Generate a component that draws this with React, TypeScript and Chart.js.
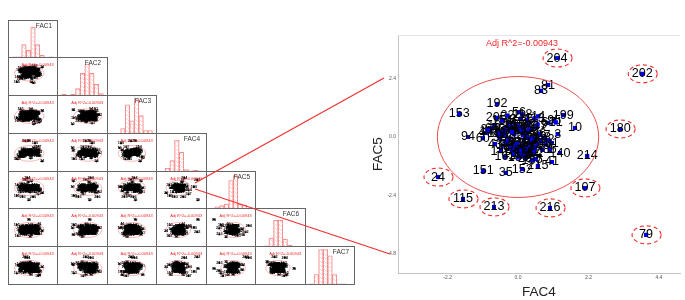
import React, { useEffect, useRef } from "react";
import { Chart, registerables } from "chart.js";
Chart.register(...registerables);

const FONT = "'Liberation Sans', Arial, sans-serif";
const NAMES = ["FAC1", "FAC2", "FAC3", "FAC4", "FAC5", "FAC6", "FAC7"];
const R2_LABEL = "Adj R^2=-0.00943";

const CASE_IDS = [204,202,180,81,83,10,199,214,153,94,24,115,213,216,107,79,151,35,152,215,41,192,
  176,26,16,211,14,21,61,12,82,143,241,52,9,95,6,124,33,171,47,118,68,137,29,205,73,159,88,3,
  146,56,182,19,127,64,98,31,163,45,110,75,193,58,131,22,87,140,37,206,66,119,5,154,92,28,187,43,
  102,71,168,17,134,49,196,60,113,85,39,148,
  7,11,13,15,18,20,23,25,27,30,32,34,36,38,40,42,44,46,48,50,51,53,54,55,57,59,62,63,65,67,69,70,72,74,76,77];

const FAC1 = [-0.4,-0.8,1.2,0.5,-0.2,0.9,-1.2,1.5,-2.4,0.3,2.7,-2.6,-1.4,0.8,1.9,-0.1,-1.8,0.2,1.1,-0.7,2.1,-1.5,
  1.42,-0.73,0.28,-1.65,0.91,-0.16,1.97,-1.08,0.54,-2.12,0.07,1.26,-0.49,-1.37,0.66,2.05,-0.88,0.33,-1.79,1.13,
  -0.25,0.79,-1.21,1.58,0.12,-0.61,-1.92,0.45,1.74,-0.37,0.96,-1.5,0.21,-0.94,1.35,-0.08,-2.0,0.6,1.05,-0.55,
  -1.28,1.84,0.38,-0.69,0.02,1.49,-1.58,0.74,-0.31,1.19,-1.85,0.5,-1.02,0.87,-0.19,2.18,-0.78,0.25,-1.44,1.02,
  -0.42,1.63,0.16,-1.14,0.69,-0.03,-1.7,0.41,
  0.88,-1.16,0.43,1.31,-0.64,-1.62,0.19,1.08,-0.29,-0.99,1.7,0.58,-1.43,0.31,-0.51,0.97,1.45,-0.83,0.06,-1.33,
  1.22,-0.14,0.72,-1.74,0.35,1.9,-0.58,-0.22,1.15,-1.07,0.52,-0.77,1.38,-0.35,0.1,-1.52];
const FAC2 = [0.6,-0.4,0.9,-2.9,0.3,-3.1,1.1,0.2,-1.2,0.7,1.8,-2.8,-1.9,2.0,-0.9,0.4,1.5,-1.1,2.3,0.8,-0.3,1.3,
  -0.45,1.12,0.36,-1.27,0.78,1.66,-0.82,0.15,-1.74,0.94,0.48,-0.21,1.38,-1.06,0.62,-0.58,1.85,0.09,-1.41,0.71,
  -0.33,1.21,-0.95,0.27,1.53,-1.58,0.4,-0.12,0.86,-0.71,1.02,-1.19,0.55,1.72,-0.38,0.18,-1.9,0.67,1.29,-0.66,
  -0.04,0.97,-1.33,0.31,1.44,-0.89,0.59,-0.26,1.08,-1.5,0.22,1.6,-0.52,0.83,-1.12,0.11,1.33,-0.77,0.44,-0.17,
  1.17,-1.02,0.74,-0.47,0.03,1.49,-1.66,0.52,
  0.57,-0.68,1.25,0.13,-1.22,0.91,0.39,-0.31,1.41,-0.84,0.7,0.24,-1.03,1.14,-0.43,0.5,-0.15,0.99,-1.28,0.32,
  1.56,-0.6,0.07,0.81,-0.92,1.31,-0.24,0.43,1.05,-0.75,0.19,-1.4,0.64,0.28,-0.51,0.88];
const FAC3 = [0.5,-0.2,-2.3,1.9,0.1,-2.6,0.9,1.4,-1.4,2.2,1.7,-0.6,-1.6,0.3,-1.2,0.7,2.1,-1.0,0.4,1.2,-2.0,-0.5,
  0.72,-0.38,1.25,-0.91,0.16,-1.42,0.57,1.08,-0.24,-1.13,0.41,0.93,-0.66,1.51,-0.09,-1.68,0.29,0.84,-0.52,1.16,
  -1.27,0.03,0.65,-0.78,1.37,-0.18,0.49,-1.02,0.98,-0.44,1.62,-0.6,0.12,-1.36,0.77,0.34,-0.85,1.21,-0.31,0.54,
  -1.53,0.9,-0.07,0.23,-0.97,1.43,-0.56,0.68,-1.19,0.08,1.03,-0.29,0.46,-0.73,1.3,-1.08,0.19,0.81,-0.41,-1.6,
  0.61,-0.14,1.12,-0.83,0.37,-0.48,1.55,0.05,
  -0.34,0.87,-0.7,0.25,1.19,-0.21,-1.12,0.52,0.06,-0.62,1.33,-0.42,0.74,-0.93,0.17,1.01,-0.11,-1.24,0.44,0.63,
  -0.79,0.31,1.24,-0.5,-0.02,0.92,-1.31,0.21,0.69,-0.35,1.09,-0.65,0.13,-1.0,0.56,0.39];
const FAC4 = [1.22,3.88,3.19,0.94,0.72,1.78,1.41,2.16,-1.84,-1.56,-2.5,-1.72,-0.75,1.0,2.09,4.0,-1.09,-0.38,0.13,0.62,1.06,-0.66,
  -0.31,0.42,-0.74,0.18,0.63,-0.12,0.95,-0.47,0.27,-0.88,0.08,-0.22,0.51,1.13,-0.59,0.33,-0.05,0.76,-1.02,0.14,
  -0.36,0.58,0.22,-0.68,0.87,-0.17,0.39,1.24,-0.53,0.03,0.47,-0.27,0.69,-0.81,0.11,1.05,-0.41,0.29,-0.09,0.55,
  -0.63,0.81,0.19,-0.33,0.36,1.31,-0.95,0.06,-0.2,0.61,0.24,-0.5,0.92,-0.02,0.44,-0.72,0.16,1.18,-0.15,0.31,
  -0.44,0.72,0.01,-1.1,0.52,0.99,-0.26,0.12,
  -0.11,0.37,-0.48,0.26,0.05,-0.29,0.6,-0.18,0.15,0.43,-0.39,0.09,0.32,-0.57,0.21,0.49,-0.07,0.66,-0.24,0.13,
  0.28,-0.34,0.54,0,-0.45,0.17,0.38,-0.13,0.07,0.25,-0.61,0.46,-0.03,0.34,0.1,-0.2];
const FAC5 = [3.25,2.6,0.33,2.14,1.9,0.37,0.9,-0.78,0.95,0,-1.65,-2.55,-2.88,-2.92,-2.1,-4.03,-1.4,-1.48,-1.32,-1.19,-1.03,1.36,
  0.62,0.31,0.48,-0.22,0.85,0.11,0.58,-0.35,-0.61,0.23,0.74,-0.44,-0.08,0.66,0.05,-0.72,0.39,-0.53,0.17,0.93,
  -0.19,0.42,-0.88,0.79,-0.31,0.27,-0.15,0.12,-0.58,1.02,-0.68,0.55,0.08,0.36,-0.41,-0.25,-0.82,0.71,0.47,-0.91,
  0.14,-0.03,-0.49,0.88,-0.27,-0.66,0.29,-0.76,-0.38,0.51,0.02,0.68,-0.12,-0.57,-0.95,-0.29,0.34,0.6,-0.7,-0.46,
  0.21,-0.18,-0.84,-0.05,0.77,-0.52,0.44,-0.36,
  0.18,-0.41,0.26,-0.63,0.4,-0.1,-0.27,-0.52,0.07,-0.16,0.33,-0.74,0.52,-0.02,0.22,-0.59,-0.33,0.13,-0.45,0.37,
  0.0,-0.21,-0.4,0.46,0.09,-0.69,-0.11,-0.37,0.28,-0.5,0.15,-0.06,-0.28,0.31,-0.56,0.2];
const FAC6 = [1.4,-0.7,0.8,-1.5,0.3,0.6,-1.2,1.1,-1.8,0.2,-0.3,1.6,-1.4,0.5,1.3,3.3,-1.0,-2.2,0.7,-0.9,1.8,-0.4,
  -0.28,0.63,-1.02,0.41,1.14,-0.56,0.09,-1.31,0.86,-0.13,0.52,-0.77,1.29,-0.34,0.21,-1.18,0.74,1.47,-0.62,0.02,
  -0.93,0.38,1.06,-0.45,0.67,-1.44,0.16,-0.2,0.95,-0.71,0.31,1.33,-1.09,0.57,-0.38,0.11,0.82,-0.86,1.21,-0.24,
  0.46,-1.26,0.7,-0.05,1.02,-0.52,0.27,-0.98,0.6,1.4,-0.31,0.14,-1.37,0.89,-0.66,0.36,1.17,-0.11,0.5,-0.81,
  0.24,-1.14,0.78,-0.42,1.25,0.06,-0.59,0.43,
  0.35,-0.49,0.92,-0.16,-1.05,0.58,0.12,-0.73,1.1,0.28,-0.36,0.79,-0.91,0.04,0.48,-0.23,1.3,-0.57,0.18,0.66,
  -1.21,0.41,-0.08,0.85,-0.64,0.23,1.0,-0.3,-0.79,0.54,0.15,-1.0,0.73,-0.19,0.33,-0.46];
const FAC7 = [3.3,3.4,-1.1,0.9,-0.6,1.2,-1.5,0.4,1.0,-2.1,0.3,-1.7,1.6,-0.8,-2.5,-0.2,0.7,1.9,-1.3,0.6,-2.2,1.1,
  0.34,-0.82,0.97,-0.17,-1.23,0.58,1.31,-0.44,0.12,0.76,-1.05,0.26,-0.63,1.12,0.49,-1.38,-0.09,0.85,-0.71,0.18,
  1.44,-0.33,0.61,-1.16,0.04,0.92,-0.54,1.27,-0.86,0.39,-0.2,1.05,-1.47,0.53,0.15,-0.68,1.19,-0.37,0.8,-0.97,
  0.29,-1.29,0.67,1.36,-0.52,0.07,-0.78,0.95,-0.13,0.44,-1.1,1.22,-0.4,0.71,0.21,-0.89,1.53,-0.26,0.56,-1.2,
  0.1,0.83,-0.6,-0.03,1.09,-1.33,0.37,-0.47,
  -0.57,0.63,0.17,-0.92,1.01,-0.23,0.47,0.89,-0.74,0.02,1.17,-0.35,0.55,-1.02,0.28,-0.12,0.74,-1.18,0.41,0.96,
  -0.49,0.09,1.28,-0.81,0.33,-0.28,0.6,-0.66,1.0,0.19,-1.25,0.46,-0.06,0.78,-0.42,0.24];
const FACTORS = [FAC1, FAC2, FAC3, FAC4, FAC5, FAC6, FAC7];

const HIST1 = [0,3,3,35,20,81,35,7,2,3,0];
const HIST2 = [0,5,0,4,19,58,82,58,30,6,0];
const HIST3 = [0,0,0,14,75,34,91,47,9,9,0];
const HIST4 = [0,0,10,29,82,51,6,3,5,3,0];
const HIST5 = [0,0,6,9,13,75,88,13,10,0,0];
const HIST6 = [0,0,3,23,69,69,20,5,0,0,0];
const HIST7 = [0,3,27,91,91,75,27,3,3,0,0];
const HISTS = [HIST1, HIST2, HIST3, HIST4, HIST5, HIST6, HIST7];
const BINS = ["1","2","3","4","5","6","7","8","9","10","11"];

const X_TICKS = [-2.2, 0, 2.2, 4.4];
const Y_TICKS = [2.4, 0, -2.4, -4.8];
const RINGED = [204,202,180,24,115,213,216,107,79];

const COLS = [8,57,107,156,206,255,305,354];
const ROWS = [20,57,95,133,171,208,246,284];
const X_FRAC = [0.41,0.62,0.5,0.425,0.55,0.44];
const Y_FRAC = [0,0.39,0.55,0.53,0.43,0.58,0.58];
const X_SPAN = 8.81, Y_SPAN = 9.8;
const ELL_X = [3.1,2.9,2.9,2.52,2.6,2.5];
const ELL_Y = [0,2.5,2.3,2.5,2.49,2.4,2.4];

const LINE_A_X = [195,384], LINE_A_Y = [183,78];
const LINE_B_X = [195,390], LINE_B_Y = [189,254];

function hatch(): CanvasPattern | string {
  const c = document.createElement("canvas");
  c.width = 4; c.height = 4;
  const g = c.getContext("2d")!;
  g.strokeStyle = "#fbc4c4"; g.lineWidth = 0.7;
  g.beginPath();
  g.moveTo(0,0); g.lineTo(4,4);
  g.moveTo(-1,3); g.lineTo(1,5);
  g.moveTo(3,-1); g.lineTo(5,1);
  g.stroke();
  return g.createPattern(c,"repeat") || "#fcc";
}

function pts(xs: number[], ys: number[]) {
  return xs.map((x,i)=>({x, y: ys[i]}));
}

function scatterDecor(ids:number[], font:string, rx:number, ry:number, title:string, titleSize:number, titleXf:number, titleY:number, rings:boolean, ellColor:string) {
  return {
    id: "decor",
    afterDatasetsDraw(chart:any) {
      const {ctx, chartArea:a, scales:{x,y}} = chart;
      ctx.save();
      ctx.font = font;
      ctx.textAlign = "center"; ctx.textBaseline = "middle";
      const items = chart.getDatasetMeta(0).data;
      items.forEach((p:any,i:number)=>{
        ctx.fillStyle = "#000";
        ctx.fillText(String(ids[i]), p.x, p.y);
        const n = items[i+1];
        if (rings && n) { ctx.fillStyle = "#0000ee"; ctx.fillRect(n.x-2, n.y-2, 4, 4); }
      });
      ctx.strokeStyle = ellColor; ctx.lineWidth = rings ? 1 : 0.6;
      const cx = x.getPixelForValue(0), cy = y.getPixelForValue(0);
      ctx.beginPath();
      ctx.ellipse(cx, cy, x.getPixelForValue(rx)-cx, cy-y.getPixelForValue(ry), 0, 0, Math.PI*2);
      ctx.stroke();
      if (rings) {
        ctx.strokeStyle = "#f02828"; ctx.lineWidth = 1.1; ctx.setLineDash([4,3]);
        items.forEach((p:any,i:number)=>{
          if (RINGED.includes(ids[i])) {
            ctx.beginPath(); ctx.ellipse(p.x+0.5,p.y,14.5,9,0,0,Math.PI*2); ctx.stroke();
          }
        });
        ctx.setLineDash([]);
      }
      ctx.fillStyle = "#f02828";
      ctx.font = `${titleSize}px ${FONT}`;
      ctx.fillText(title, a.left + a.width*titleXf, a.top + titleY);
      ctx.restore();
    }
  };
}

function frame(label:string) {
  return {
    id: "frame",
    afterDraw(chart:any) {
      const {ctx, width, height} = chart;
      ctx.save();
      ctx.strokeStyle = "#666"; ctx.lineWidth = 1;
      ctx.strokeRect(0.5,0.5,width-1,height-1);
      if (label) {
        ctx.fillStyle = "#333"; ctx.font = `6.5px ${FONT}`;
        ctx.textAlign = "center"; ctx.textBaseline = "middle";
        ctx.fillText(label, 36, 6);
      }
      ctx.restore();
    }
  };
}

type Spec = { left:number; top:number; width:number; height:number; blur?:number; build:(c:HTMLCanvasElement)=>Chart };

const hiddenScale = (min:number,max:number)=>({type:"linear" as const,display:false,min,max});

function buildSpecs(): Spec[] {
  const specs: Spec[] = [];
  for (let r=0;r<7;r++) for (let c=0;c<=r;c++) {
    const left = COLS[c], top = ROWS[r];
    const width = COLS[c+1]-left+1, height = ROWS[r+1]-top+1;
    if (r===c) {
      specs.push({left,top,width,height,blur:0.35,build:(el)=>new Chart(el,{
        type:"bar",
        data:{labels:BINS,datasets:[{data:HISTS[r],backgroundColor:hatch() as any,borderColor:"#f58a8a",borderWidth:0.5,categoryPercentage:1,barPercentage:1}]},
        options:{responsive:false,animation:false,devicePixelRatio:1,layout:{padding:0},
          plugins:{legend:{display:false},tooltip:{enabled:false}},
          scales:{x:{display:false},y:{display:false,min:0,max:100}}},
        plugins:[frame(NAMES[r])]
      })});
    } else {
      const xmin = -X_FRAC[c]*X_SPAN, ymax = Y_FRAC[r]*Y_SPAN;
      specs.push({left,top,width,height,blur:0.35,build:(el)=>new Chart(el,{
        type:"scatter",
        data:{datasets:[{data:pts(FACTORS[c],FACTORS[r]),pointRadius:1.1,backgroundColor:"#000",borderWidth:0}]},
        options:{responsive:false,animation:false,devicePixelRatio:1,layout:{padding:0},
          plugins:{legend:{display:false},tooltip:{enabled:false}},
          scales:{x:hiddenScale(xmin,xmin+X_SPAN),y:hiddenScale(ymax-Y_SPAN,ymax)}},
        plugins:[scatterDecor(CASE_IDS,`bold 3.8px ${FONT}`,ELL_X[c],ELL_Y[r],R2_LABEL,4,0.61,4,false,"#f58a8a"),frame("")]
      })});
    }
  }
  specs.push({left:366,top:25,width:319,height:275,blur:0.3,build:(el)=>new Chart(el,{
    type:"scatter",
    data:{datasets:[{data:pts(FAC4,FAC5),pointStyle:"rect",pointRadius:2.8,backgroundColor:"#0000ee",borderWidth:0}]},
    options:{responsive:false,animation:false,devicePixelRatio:1,
      layout:{padding:{top:10,right:5,left:0,bottom:0}},
      plugins:{legend:{display:false},tooltip:{enabled:false}},
      scales:{
        x:{type:"linear",min:-3.75,max:5.06,
          afterBuildTicks:(s:any)=>{s.ticks=X_TICKS.map(value=>({value}));},
          afterFit:(s:any)=>{s.height=27;},
          grid:{display:false,drawTicks:false,tickLength:0},border:{color:"#c4c4c4",width:1},
          ticks:{font:{size:5,family:FONT},color:"#555",padding:2,maxRotation:0,callback:(v:any)=>Number(v).toFixed(1)},
          title:{display:true,text:"FAC4",font:{size:13.5,family:FONT},color:"#222",padding:{top:3,bottom:0}}},
        y:{type:"linear",min:-5.6,max:4.2,
          afterBuildTicks:(s:any)=>{s.ticks=Y_TICKS.map(value=>({value}));},
          afterFit:(s:any)=>{s.width=32;},
          grid:{display:false,drawTicks:false,tickLength:0},border:{color:"#c4c4c4",width:1},
          ticks:{font:{size:5,family:FONT},color:"#555",padding:2,callback:(v:any)=>Number(v).toFixed(1)},
          title:{display:true,text:"FAC5",font:{size:13.5,family:FONT},color:"#222",padding:{top:4,bottom:0}}}
      }},
    plugins:[
      scatterDecor(CASE_IDS,`12.6px ${FONT}`,2.52,2.49,R2_LABEL,9,0.44,9,true,"#ee5050"),
      {id:"topline",afterDraw(chart:any){const {ctx,chartArea:a}=chart;ctx.save();ctx.strokeStyle="#e4e4e4";ctx.lineWidth=1;ctx.beginPath();ctx.moveTo(a.left,a.top+0.5);ctx.lineTo(a.right,a.top+0.5);ctx.stroke();ctx.restore();}}
    ]
  })});
  specs.push({left:0,top:0,width:685,height:300,build:(el)=>new Chart(el,{
    type:"scatter",
    data:{datasets:[
      {data:pts(LINE_A_X,LINE_A_Y),showLine:true,pointRadius:0,borderColor:"#f23030",borderWidth:1.2},
      {data:pts(LINE_B_X,LINE_B_Y),showLine:true,pointRadius:0,borderColor:"#f23030",borderWidth:1.2}
    ]},
    options:{responsive:false,animation:false,devicePixelRatio:1,layout:{padding:0},
      plugins:{legend:{display:false},tooltip:{enabled:false}},
      scales:{x:hiddenScale(0,685),y:{type:"linear",display:false,min:0,max:300,reverse:true}}}
  })});
  return specs;
}

export default function App() {
  const host = useRef<HTMLDivElement>(null);
  useEffect(()=>{
    const root = host.current!;
    const charts: Chart[] = [];
    const made: HTMLCanvasElement[] = [];
    for (const s of buildSpecs()) {
      const el = document.createElement("canvas");
      el.width = s.width; el.height = s.height;
      el.style.cssText = `position:absolute;left:${s.left}px;top:${s.top}px;width:${s.width}px;height:${s.height}px;${s.blur?`filter:blur(${s.blur}px);`:""}`;
      root.appendChild(el);
      made.push(el);
      charts.push(s.build(el));
    }
    return ()=>{ charts.forEach(c=>c.destroy()); made.forEach(e=>e.remove()); };
  },[]);
  return <div ref={host} style={{position:"fixed",left:0,top:0,width:685,height:300,background:"#fff",overflow:"hidden"}} />;
}
